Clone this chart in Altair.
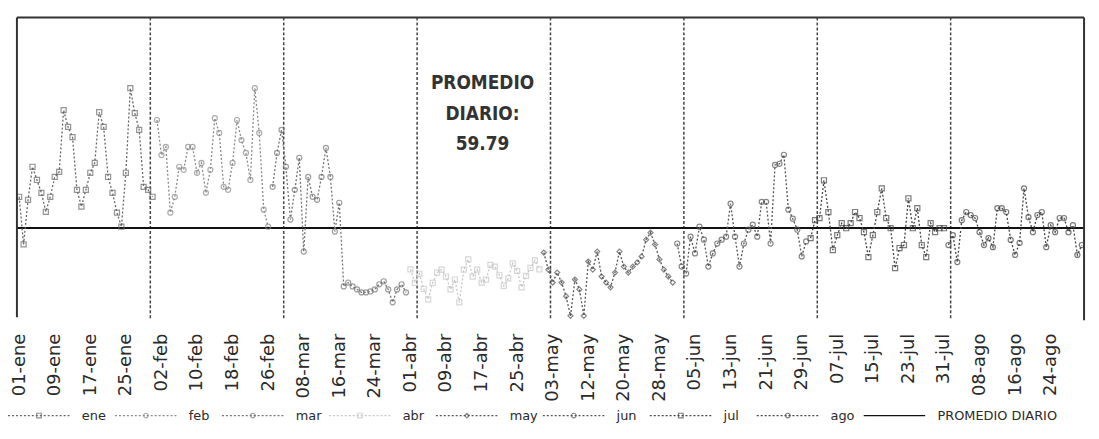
import json
import altair as alt
import pandas as pd

# ---------------- data ----------------
SERIES = ["ene", "feb", "mar", "abr", "may", "jun", "jul", "ago"]
AVG_NAME = "PROMEDIO DIARIO"
AVG = 59.79

ENE = [70.2, 54.3, 69.2, 80.2, 75.8, 71.5, 65.2, 70.2, 76.8, 78.5, 99.1, 93.5, 90.1, 72.5, 66.9, 72.5,
       78.2, 81.5, 98.4, 93.5, 76.8, 71.5, 64.9, 60.2, 78.2, 106.4, 98.1, 92.5, 73.5, 72.5, 70.2]
FEB = [95.8, 84.1, 86.8, 64.9, 70.2, 80.2, 79.2, 86.8, 86.8, 78.2, 81.5, 71.5, 79.2, 96.4, 91.5, 73.5,
       72.5, 81.5, 95.8, 89.1, 84.8, 75.8, 106.4, 91.5, 65.9, 60.2]
MAR = [73.5, 84.8, 92.5, 80.2, 62.6, 72.5, 83.2, 51.9, 76.8, 70.2, 69.2, 76.8, 86.5, 76.8, 58.6, 68.2,
       40.3, 41.6, 40.3, 39.3, 38.3, 38.3, 38.6, 39.3, 41.0, 42.0, 39.3, 35.0, 39.3, 41.0, 38.3]
ABR = [46.0, 41.5, 44.5, 39.5, 36.0, 41.5, 44.9, 45.9, 43.6, 39.3, 42.6, 35.0, 45.9, 49.3, 43.6, 45.9,
       41.6, 42.6, 47.5, 46.9, 44.0, 40.5, 43.0, 48.0, 45.5, 40.0, 43.8, 46.5, 49.0, 46.0]
MAY = [51.6, 45.9, 41.6, 44.9, 41.6, 37.0, 30.5, 42.6, 39.3, 30.5, 48.6, 45.9, 51.9, 43.6, 41.6, 40.0,
       44.9, 51.9, 46.9, 44.9, 46.9, 48.3, 50.3, 55.9, 58.2, 54.3, 49.3, 45.9, 43.6, 41.6]
JUN = [54.6, 46.9, 44.6, 56.9, 51.3, 60.2, 55.9, 46.9, 51.3, 54.6, 55.9, 56.9, 67.9, 56.9, 46.9, 54.6,
       59.2, 60.9, 56.9, 68.5, 68.5, 54.6, 80.8, 81.2, 84.2, 65.9, 62.9, 59.2, 50.3, 55.3]
JUL = [56.4, 62.4, 63.1, 75.7, 65.1, 52.4, 57.4, 61.4, 59.7, 61.4, 65.1, 63.1, 58.4, 50.1, 57.4, 65.1,
       73.0, 63.1, 59.7, 46.4, 53.1, 54.1, 69.7, 59.7, 66.4, 54.1, 50.1, 61.4, 58.4, 59.7, 59.7]
AGO = [54.1, 57.4, 48.4, 62.4, 65.1, 64.1, 63.1, 58.4, 54.1, 56.4, 53.4, 66.4, 66.4, 65.1, 55.8, 50.8,
       54.8, 73.0, 63.4, 58.4, 64.1, 65.1, 53.4, 60.7, 58.4, 63.1, 63.1, 58.4, 60.7, 50.8, 54.1]
VALUES = [ENE, FEB, MAR, ABR, MAY, JUN, JUL, AGO]

TICK_LABELS = ["01-ene", "09-ene", "17-ene", "25-ene", "02-feb", "10-feb", "18-feb", "26-feb",
               "08-mar", "16-mar", "24-mar", "01-abr", "09-abr", "17-abr", "25-abr", "03-may",
               "12-may", "20-may", "28-may", "05-jun", "13-jun", "21-jun", "29-jun", "07-jul",
               "15-jul", "23-jul", "31-jul", "08-ago", "16-ago", "24-ago"]
TICK_STEP = 8
GRID_STEP = 30

# ---------------- style ----------------
W, H = 1075, 302
ALL = SERIES + [AVG_NAME]
COLORS = ["#666666", "#8a8a8a", "#747474", "#c6c6c6", "#555555", "#555555", "#444444", "#444444", "#111111"]
DASHES = [[2, 2]] * 8 + [[1, 0]]
SHAPES = ["square", "circle", "circle", "square", "diamond", "circle", "square", "circle", "circle"]
LABEL_FONT = "DejaVu Sans"

rows = []
i = 0
for name, vals in zip(SERIES, VALUES):
    for v in vals:
        rows.append({"idx": i, "mes": name, "valor": v})
        i += 1
N = i
df = pd.DataFrame(rows)
grid_df = pd.DataFrame({"idx": [b - 0.5 for b in range(GRID_STEP, N, GRID_STEP)]})
avg_df = pd.DataFrame({"valor": [AVG]})
one = pd.DataFrame({"a": [0]})

xscale = alt.Scale(domain=[-0.5, N - 0.5], nice=False, zero=False)
yscale = alt.Scale(domain=[30, 130], nice=False, zero=False)
color = alt.Color("mes:N", scale=alt.Scale(domain=ALL, range=COLORS), legend=None)
dash = alt.StrokeDash("mes:N", scale=alt.Scale(domain=ALL, range=DASHES), legend=None)
shape = alt.Shape("mes:N", scale=alt.Scale(domain=ALL, range=SHAPES), legend=None)

label_expr = f"{json.dumps(TICK_LABELS)}[round(datum.value / {TICK_STEP})]"
x_axis = alt.Axis(values=list(range(0, N, TICK_STEP)), labelExpr=label_expr, labelAngle=270,
                  domain=False, ticks=False, grid=False, title=None, labelFont=LABEL_FONT,
                  labelFontSize=18, labelColor="#2a2a2a", labelPadding=16, labelOverlap=False,
                  labelBound=False, labelFlush=False)
X = alt.X("idx:Q", scale=xscale, axis=x_axis)

lines = alt.Chart(df).mark_line(strokeWidth=1.3).encode(
    x=X, y=alt.Y("valor:Q", scale=yscale, axis=None), color=color, strokeDash=dash)
points = alt.Chart(df).mark_point(filled=False, size=26, strokeWidth=1.2).encode(
    x=X, y=alt.Y("valor:Q", scale=yscale, axis=None), color=color, shape=shape)
grid = alt.Chart(grid_df).mark_rule(color="#444444", strokeWidth=1.5, strokeDash=[3, 2]).encode(
    x=X, y=alt.value(0), y2=alt.value(H + 3))
avg = alt.Chart(avg_df).mark_rule(color="#111111", strokeWidth=2).encode(
    y=alt.Y("valor:Q", scale=yscale, axis=None))
note = alt.Chart(one).mark_text(align="center", baseline="top", lineBreak="\n",
                                font="DejaVu Sans Condensed", fontSize=19, fontWeight="bold",
                                color="#333333", lineHeight=31).encode(
    x=alt.value(469), y=alt.value(57), text=alt.value(f"PROMEDIO\nDIARIO:\n{AVG}"))
frame_top = alt.Chart(one).mark_rule(color="#333333", strokeWidth=2).encode(
    x=alt.value(0), x2=alt.value(W), y=alt.value(0))
frame_left = alt.Chart(one).mark_rule(color="#333333", strokeWidth=2).encode(
    x=alt.value(0), y=alt.value(0), y2=alt.value(H))
frame_right = alt.Chart(one).mark_rule(color="#333333", strokeWidth=2).encode(
    x=alt.value(W), y=alt.value(0), y2=alt.value(H + 3))

plot = alt.layer(grid, avg, lines, points, note, frame_top, frame_left, frame_right)

# ---------------- legend (manual, with markers) ----------------
leg_df = pd.DataFrame({"mes": ALL, "k": list(range(len(ALL)))})
leg_df["x1"] = leg_df["k"] + 0.575
leg_df["xm"] = leg_df["k"] + 0.29
leg_df["xt"] = leg_df["k"] + 0.69
lscale = alt.Scale(domain=[0, len(ALL) - 1], range=[-9, 853])
LY = H + 99
leg_lines = alt.Chart(leg_df).mark_rule(strokeWidth=1.2).encode(
    x=alt.X("k:Q", scale=lscale, axis=None), x2="x1:Q", y=alt.value(LY),
    color=color, strokeDash=dash)
leg_pts = alt.Chart(leg_df).transform_filter(alt.datum.mes != AVG_NAME).mark_point(
    filled=False, size=22, strokeWidth=1.2).encode(
    x=alt.X("xm:Q", scale=lscale, axis=None), y=alt.value(LY), color=color, shape=shape)
leg_txt = alt.Chart(leg_df).mark_text(align="left", baseline="middle", font=LABEL_FONT,
                                      fontSize=13, color="#2a2a2a").encode(
    x=alt.X("xt:Q", scale=lscale, axis=None), y=alt.value(LY), text="mes:N")
legend = alt.layer(leg_lines, leg_pts, leg_txt)

chart = alt.layer(plot, legend).resolve_scale(x="independent").properties(
    width=W, height=H,
    padding={"left": 9, "top": 8, "right": 7, "bottom": 113},
    autosize=alt.AutoSizeParams(type="none"),
).configure_view(stroke=None).configure_axisX(labelOverlap=False)

chart.save("out.html", embed_options={"renderer": "svg", "actions": False})
